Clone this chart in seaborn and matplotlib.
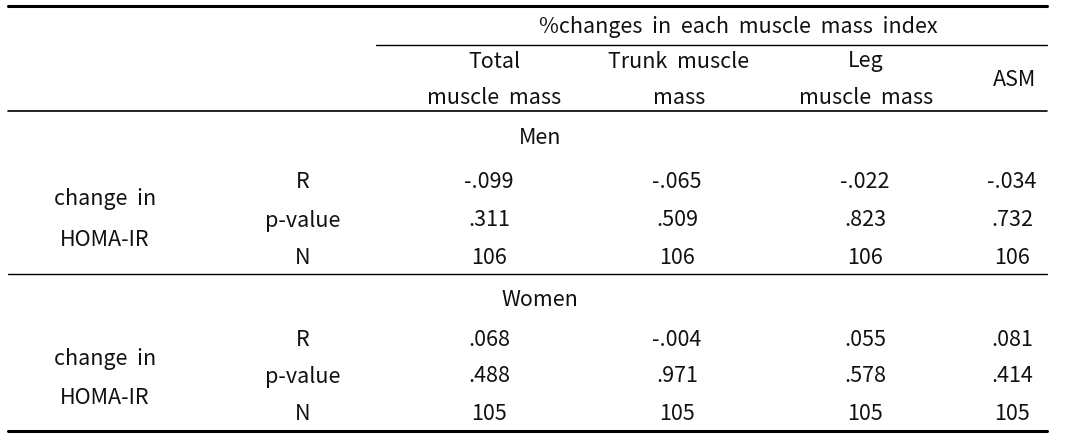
import matplotlib
matplotlib.use("Agg")
import matplotlib.pyplot as plt
import seaborn as sns

sns.set_theme(style="white")
plt.rcParams['font.family'] = ['Noto Sans CJK KR', 'DejaVu Sans']

# ---- data ----
header = "%changes  in  each  muscle  mass  index"
col_labels = ["Total\n\nmuscle  mass", "Trunk  muscle\n\nmass", "Leg\n\nmuscle  mass", "ASM"]
groups = ["Men", "Women"]
row_var = ["change  in", "HOMA-IR"]
stat_labels = ["R", "p-value", "N"]
men_R = ["-.099", "-.065", "-.022", "-.034"]
men_p = [".311", ".509", ".823", ".732"]
men_N = ["106", "106", "106", "106"]
women_R = [".068", "-.004", ".055", ".081"]
women_p = [".488", ".971", ".578", ".414"]
women_N = ["105", "105", "105", "105"]

fig = plt.figure(figsize=(10.88, 4.46), dpi=100)
ax = fig.add_axes([0, 0, 1, 1])
ax.set_xlim(0, 1088)
ax.set_ylim(446, 0)
ax.axis("off")

fs = 15.5
tc = "#111111"
dy = 1.5
col_x = [494, 679, 866, 1015]
val_x = [489, 677, 865, 1012]

def T(x, y, s):
    ax.text(x, y + dy, s, ha="center", va="center", fontsize=fs, color=tc)

# lines
ax.plot([8, 1047], [6, 6], color="black", lw=2.2)
ax.plot([376, 1047], [45, 45], color="black", lw=1.0)
ax.plot([8, 1047], [111, 111], color="black", lw=1.2)
ax.plot([8, 1047], [274, 274], color="black", lw=1.0)
ax.plot([8, 1047], [431, 431], color="black", lw=2.2)

T(738, 25, header)
for x, lab in zip(col_x, col_labels):
    if "\n" in lab:
        top, _, bot = lab.split("\n")
        T(x, 60, top)
        T(x, 97, bot)
    else:
        T(x, 78, lab)

blocks = [(groups[0], [men_R, men_p, men_N], 136, [180, 219, 257], [198, 238]),
          (groups[1], [women_R, women_p, women_N], 298, [338, 375, 413], [358, 397])]
for g, rows, gy, ys, vy in blocks:
    T(540, gy, g)
    T(105, vy[0], row_var[0])
    T(105, vy[1], row_var[1])
    for y, sl, vals in zip(ys, stat_labels, rows):
        T(303, y, sl)
        for x, v in zip(val_x, vals):
            T(x, y, v)

fig.savefig("out.png", dpi=100, facecolor="white")
